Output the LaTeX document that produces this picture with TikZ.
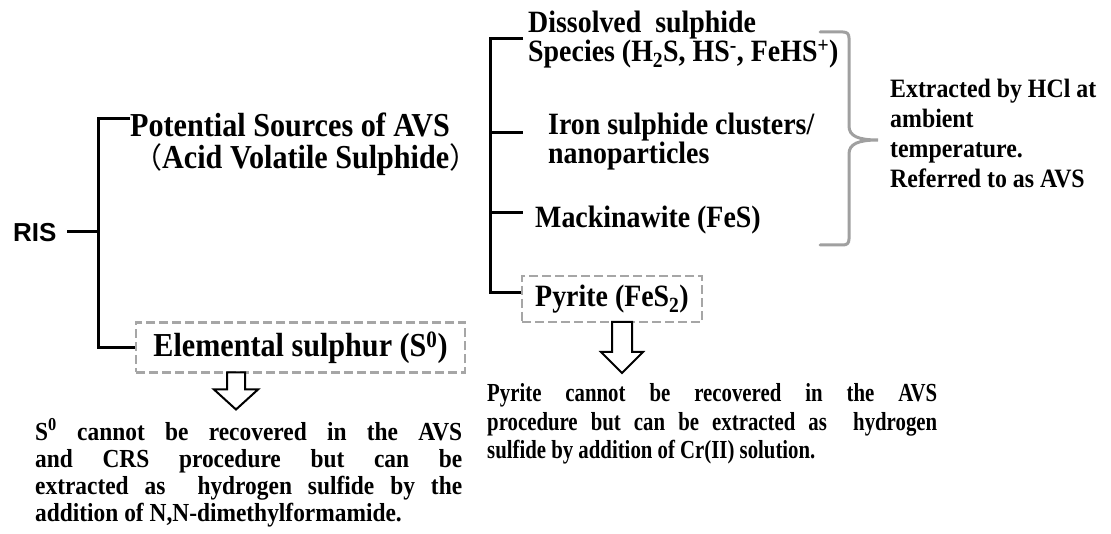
\documentclass[tikz,border=0pt]{standalone}
\usepackage{fontspec}
\setmainfont{Liberation Serif}[FakeStretch=0.9]
\newfontfamily\narrowserif{Liberation Serif}[FakeStretch=0.8]
\newfontfamily\arialfont{Liberation Sans}
\newfontfamily\cjk{Noto Sans CJK SC}
\newcommand\blocklines[1]{\vtop{\lineskiplimit=-100pt\lineskip=0pt\halign{##\hfil\cr #1\crcr}}}
\newcommand\justlines[2]{\parbox[t]{#1}{\tolerance=10000\lineskiplimit=-100pt\relax #2}}
\newcommand\fwparen[1]{{\cjk\mdseries\fontsize{29}{29}\selectfont #1}}
\definecolor{boxgray}{RGB}{166,166,166}
\definecolor{bracegray}{RGB}{160,160,160}
\begin{document}
\begin{tikzpicture}[x=1pt,y=-1pt,
  tree/.style={line width=3pt, black, line join=miter},
  dashbox/.style={draw=boxgray, dash pattern=on 9pt off 4pt, line width=2.5pt, inner sep=0pt},
  lbl/.style={inner sep=0pt, anchor=base west},
  bigtext/.style={font=\bfseries\fontsize{33.5}{32}\selectfont},
  midtext/.style={font=\bfseries\fontsize{31}{29}\selectfont},
  notetext/.style={font=\bfseries\fontsize{26.5}{30}\selectfont},
  paratext/.style={font=\bfseries\fontsize{26}{27.3}\selectfont},
  pararight/.style={font=\narrowserif\bfseries\fontsize{26}{28.2}\selectfont},
  blockarrow/.style={draw=black, fill=white, line width=2pt, line join=miter},
  bracestyle/.style={draw=bracegray, line width=3pt, line cap=round}
]
\useasboundingbox[fill=white] (0,0) rectangle (1111,534);

% ---------- left tree ----------
\node[lbl, font=\arialfont\bfseries\fontsize{26}{26}\selectfont] (ris) at (13,242) {RIS};
\coordinate (risArm) at (67,232);
\coordinate (L0) at (98,232);
\coordinate (L1) at (98,119);
\coordinate (L2) at (98,347.5);
\coordinate (potArm) at (130,119);

\node[lbl, bigtext] (pot) at (130,137)
  {\blocklines{Potential Sources of AVS\cr\hspace{3pt}\fwparen{（}Acid Volatile Sulphide\fwparen{）}}};

\node[dashbox, bigtext, minimum width=329pt, minimum height=50pt] (elem) at (300.5,347.5)
  {Elemental sulphur (S\textsuperscript{0})};

\draw[tree] (risArm) -- (L0);
\draw[tree] (potArm) -- (L1) -- (L2) -- (elem.west);

\coordinate (arrL) at (236,372.5);
\draw[blockarrow] (arrL) ++(-9,0) -- ++(18,0) -- ++(0,17) -- ++(13,0) -- ++(-22,20) -- ++(-22,-20) -- ++(13,0) -- cycle;

\node[lbl, paratext] (elemnote) at (35,440)
  {\justlines{427pt}{S\textsuperscript{0} cannot be recovered in the AVS\linebreak
   and CRS procedure but can be\linebreak
   extracted as\ \ hydrogen sulfide by the\linebreak
   addition of N,N-dimethylformamide.}};

% ---------- right tree ----------
\coordinate (R1) at (490,39);
\coordinate (R2) at (490,133);
\coordinate (R3) at (490,213);
\coordinate (R4) at (490,293);
\coordinate (dArm) at (523,39);
\coordinate (iArm) at (523,133);
\coordinate (mArm) at (523,213);

\node[lbl, midtext] (diss) at (528,33)
  {\blocklines{Dissolved\ \ sulphide\cr Species (H\textsubscript{2}S, HS\textsuperscript{-}, FeHS\textsuperscript{+})}};
\node[lbl, midtext] (iron) at (548,135)
  {\blocklines{Iron sulphide clusters/\cr nanoparticles}};
\node[lbl, midtext] (mack) at (535,228) {Mackinawite (FeS)};

\node[dashbox, midtext, minimum width=180pt, minimum height=46pt] (pyr) at (612,299)
  {Pyrite (FeS\textsubscript{2})};

\draw[tree] (dArm) -- (R1) -- (R4) -- (pyr.west |- R4);
\draw[tree] (R2) -- (iArm);
\draw[tree] (R3) -- (mArm);

\coordinate (arrP) at (622,322);
\draw[blockarrow] (arrP) ++(-10,0) -- ++(20,0) -- ++(0,30) -- ++(11,0) -- ++(-21,21) -- ++(-21,-21) -- ++(11,0) -- cycle;

\node[lbl, pararight] (pyrnote) at (487,402)
  {\justlines{450pt}{Pyrite cannot be recovered in the AVS\linebreak
   procedure but can be extracted as\ \ hydrogen\linebreak
   sulfide by addition of Cr(II) solution.}};

% ---------- brace and note ----------
\coordinate (bTop) at (820,32);
\coordinate (bTip) at (878,140);
\coordinate (bBot) at (820,245);
\draw[bracestyle] (bTop) -- (843,32) .. controls (847,32) and (849,34) .. (849,38)
  -- (849,126) .. controls (849,136) and (858,140) .. (bTip)
  .. controls (858,140) and (849,144) .. (849,154)
  -- (849,239) .. controls (849,243) and (847,245) .. (843,245) -- (bBot);

\node[lbl, notetext] (hcl) at (890,98)
  {\blocklines{Extracted by HCl at\cr ambient\cr temperature.\cr Referred to as AVS}};
\end{tikzpicture}
\end{document}
